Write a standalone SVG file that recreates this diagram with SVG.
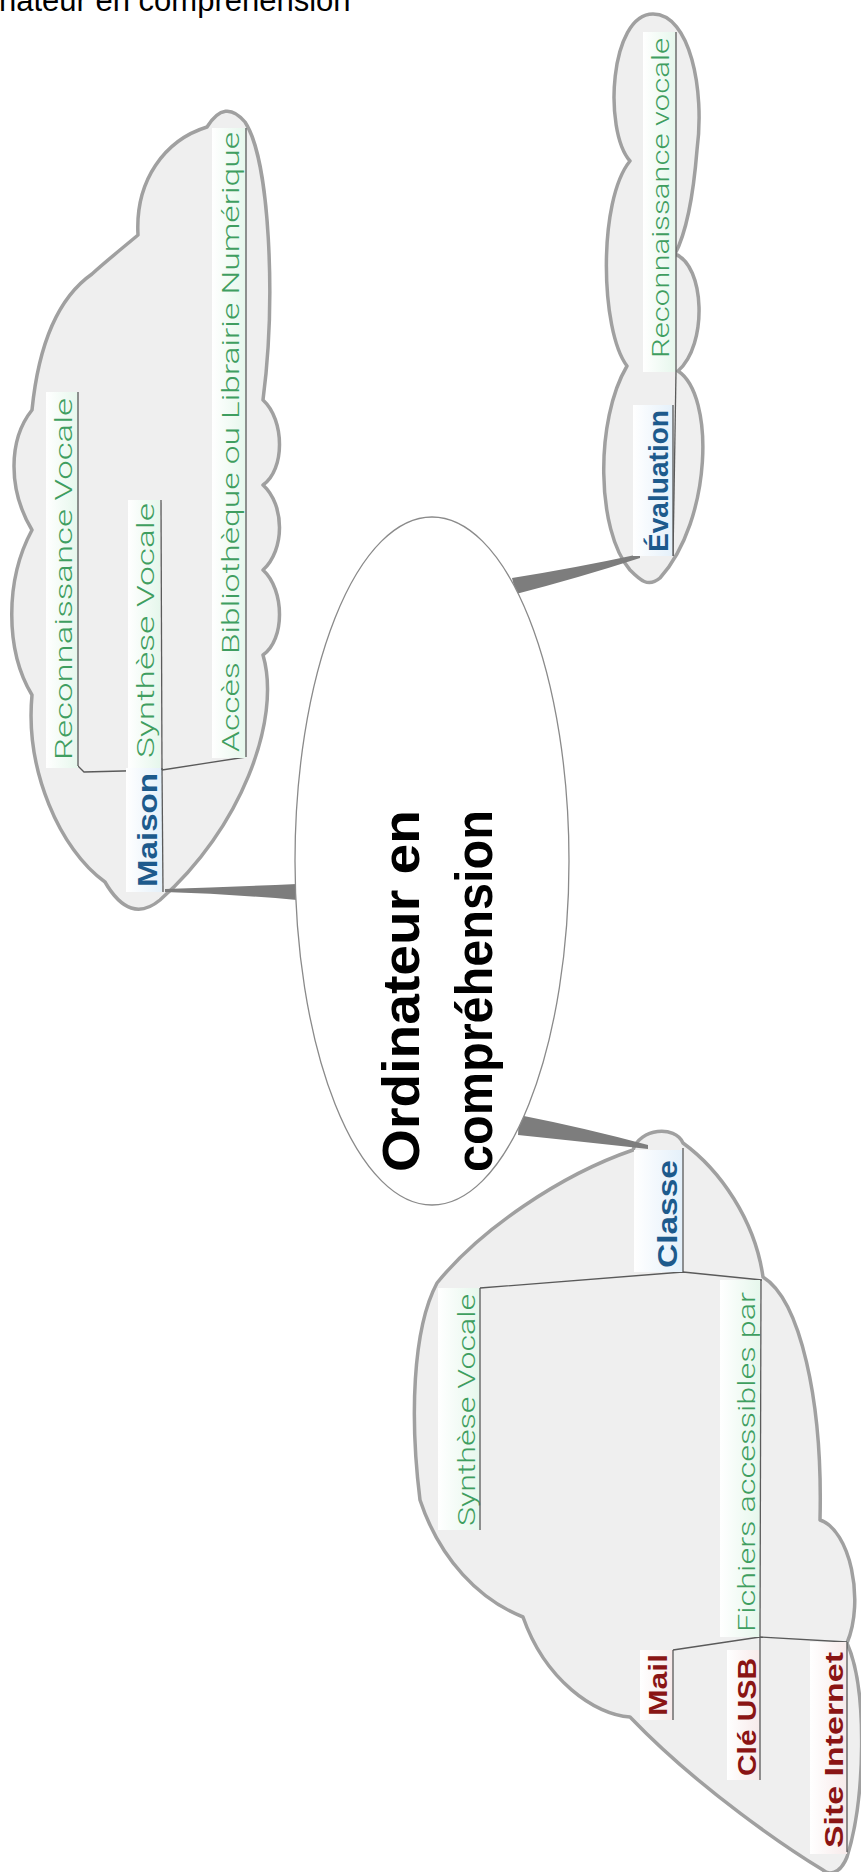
<svg xmlns="http://www.w3.org/2000/svg" width="861" height="1872" viewBox="0 0 861 1872">
<defs>
<linearGradient id="gGreen" x1="0" y1="0" x2="1" y2="0"><stop offset="0" stop-color="#ffffff"/><stop offset="1" stop-color="#e6f7ec"/></linearGradient>
<linearGradient id="gBlue" x1="0" y1="0" x2="1" y2="0"><stop offset="0" stop-color="#ffffff"/><stop offset="1" stop-color="#e4f0fa"/></linearGradient>
<linearGradient id="gRed" x1="0" y1="0" x2="1" y2="0"><stop offset="0" stop-color="#ffffff"/><stop offset="1" stop-color="#f7eaea"/></linearGradient>
</defs>
<style>
.cloud{fill:#efefef;stroke:#a0a0a0;stroke-width:3.5;stroke-linejoin:round}
.ul{fill:none;stroke:#5a5a5a;stroke-width:1.3}
.conn{fill:#7d7d7d;stroke:none}
.sub{font-family:Roboto,"Liberation Sans","DejaVu Sans",sans-serif;font-size:23px;font-weight:300;fill:#3f9e60}
.main{font-family:"Liberation Sans","DejaVu Sans",sans-serif;font-size:27px;font-weight:bold;fill:#1d5a8c}
.leaf{font-family:"Liberation Sans","DejaVu Sans",sans-serif;font-size:25px;font-weight:bold;fill:#8a1414}
.central{font-family:"Liberation Sans","DejaVu Sans",sans-serif;font-size:52px;font-weight:bold;fill:#000}
</style>
<rect width="861" height="1872" fill="#ffffff"/>
<text x="-1" y="11" font-family="Liberation Sans, Arial, sans-serif" font-size="31" fill="#000">nateur en compréhension</text>

<g id="cloud-maison">
<path class="cloud" d="M160,900 Q130,925 105,882 C60,850 25,770 32,695 C5,650 5,580 32,530 C8,490 8,440 32,410 C38,350 55,300 92,274 C105,262 125,246 138,235 C135,180 165,140 207,127 Q225,98 245,122 C270,160 276,300 263,400 C285,420 285,470 263,485 C285,505 285,550 263,570 C285,590 285,640 263,655 C282,720 240,830 160,900 Z"/>
</g>
<g id="cloud-evaluation">
<path class="cloud" d="M653,14 C690,14 705,90 697,150 C693,200 685,235 675,254 C705,265 708,345 678,371 C715,395 712,520 660,578 C648,588 640,580 630,570 C596,530 595,420 627,366 C600,330 598,200 630,161 C603,130 610,14 653,14 Z"/>
</g>
<g id="cloud-classe">
<path class="cloud" d="M633,1150 C640,1128 675,1125 683,1143 C720,1170 755,1220 763,1277 C800,1300 823,1400 820,1520 C850,1530 865,1600 847,1643 C868,1690 865,1800 847,1857 C840,1875 828,1875 823,1870 C790,1850 700,1790 630,1717 C595,1715 545,1680 523,1617 C480,1600 440,1560 420,1500 C410,1420 412,1330 437,1283 C480,1230 560,1175 633,1150 Z"/>
</g>

<g id="connectors">
<path class="conn" d="M165,889 Q230,887 297,884 L297,900 Q230,894 165,892 Z"/>
<path class="conn" d="M512,578 Q575,568 640,554 L640,558 Q578,578 516,594 Z"/>
<path class="conn" d="M519,1115 Q585,1128 648,1145 L648,1149 Q585,1142 518,1135 Z"/>
<polyline class="ul" points="78,766 84,772 162,770 246,757"/>
<polyline class="ul" points="480,1288 683,1272 762,1280"/>
<polyline class="ul" points="673,1650 760,1637 847,1642"/>
<line class="ul" x1="673" y1="556" x2="676" y2="372"/>
</g>

<g id="central">
<ellipse cx="432" cy="861" rx="137" ry="344" fill="#ffffff" stroke="#8a8a8a" stroke-width="1.3"/>
<text class="central" transform="translate(419,1172) rotate(-90)" textLength="362" lengthAdjust="spacingAndGlyphs">Ordinateur en</text>
<text class="central" transform="translate(492,1172) rotate(-90)" textLength="362" lengthAdjust="spacingAndGlyphs">compréhension</text>
</g>

<g id="node-maison">
<rect x="126" y="768" width="36" height="124" fill="url(#gBlue)"/>
<text class="main" transform="translate(157,887) rotate(-90)" textLength="114" lengthAdjust="spacingAndGlyphs">Maison</text>
<line class="ul" x1="162" y1="768" x2="163" y2="892"/>
</g>
<g id="node-reco-maison">
<rect x="46" y="392" width="32" height="376" fill="url(#gGreen)"/>
<text class="sub" transform="translate(72,760) rotate(-90)" textLength="362" lengthAdjust="spacingAndGlyphs">Reconnaissance Vocale</text>
<line class="ul" x1="78" y1="392" x2="78" y2="766"/>
</g>
<g id="node-synth-maison">
<rect x="128" y="500" width="32" height="268" fill="url(#gGreen)"/>
<text class="sub" transform="translate(154,758) rotate(-90)" textLength="255" lengthAdjust="spacingAndGlyphs">Synthèse Vocale</text>
<line class="ul" x1="161" y1="500" x2="162" y2="770"/>
</g>
<g id="node-acces">
<rect x="212" y="128" width="34" height="630" fill="url(#gGreen)"/>
<text class="sub" transform="translate(239,752) rotate(-90)" textLength="620" lengthAdjust="spacingAndGlyphs">Accès Bibliothèque ou Librairie Numérique</text>
<line class="ul" x1="246" y1="128" x2="246" y2="757"/>
</g>

<g id="node-evaluation">
<rect x="633" y="405" width="40" height="151" fill="url(#gBlue)"/>
<text class="main" transform="translate(668,552) rotate(-90)" textLength="142" lengthAdjust="spacingAndGlyphs">Évaluation</text>
<line class="ul" x1="673" y1="405" x2="673" y2="556"/>
</g>
<g id="node-reco-eval">
<rect x="643" y="32" width="33" height="340" fill="url(#gGreen)"/>
<text class="sub" transform="translate(669,358) rotate(-90)" textLength="320" lengthAdjust="spacingAndGlyphs">Reconnaissance vocale</text>
<line class="ul" x1="676" y1="32" x2="676" y2="372"/>
</g>

<g id="node-classe">
<rect x="634" y="1150" width="49" height="122" fill="url(#gBlue)"/>
<text class="main" transform="translate(677,1268) rotate(-90)" textLength="108" lengthAdjust="spacingAndGlyphs">Classe</text>
<line class="ul" x1="683" y1="1148" x2="683" y2="1272"/>
</g>
<g id="node-synth-classe">
<rect x="438" y="1288" width="42" height="242" fill="url(#gGreen)"/>
<text class="sub" transform="translate(475,1526) rotate(-90)" textLength="232" lengthAdjust="spacingAndGlyphs">Synthèse Vocale</text>
<line class="ul" x1="480" y1="1288" x2="480" y2="1530"/>
</g>
<g id="node-fichiers">
<rect x="720" y="1280" width="40" height="357" fill="url(#gGreen)"/>
<text class="sub" transform="translate(755,1632) rotate(-90)" textLength="340" lengthAdjust="spacingAndGlyphs">Fichiers accessibles par</text>
<line class="ul" x1="761" y1="1280" x2="760" y2="1637"/>
</g>
<g id="node-mail">
<rect x="640" y="1650" width="33" height="70" fill="url(#gRed)"/>
<text class="leaf" transform="translate(667,1716) rotate(-90)" textLength="62" lengthAdjust="spacingAndGlyphs">Mail</text>
<line class="ul" x1="673" y1="1650" x2="673" y2="1720"/>
</g>
<g id="node-cle">
<rect x="727" y="1650" width="33" height="130" fill="url(#gRed)"/>
<text class="leaf" transform="translate(756,1776) rotate(-90)" textLength="118" lengthAdjust="spacingAndGlyphs">Clé USB</text>
<line class="ul" x1="760" y1="1637" x2="760" y2="1780"/>
</g>
<g id="node-site">
<rect x="810" y="1642" width="37" height="212" fill="url(#gRed)"/>
<text class="leaf" transform="translate(843,1848) rotate(-90)" textLength="196" lengthAdjust="spacingAndGlyphs">Site Internet</text>
<line class="ul" x1="847" y1="1642" x2="847" y2="1852"/>
</g>
</svg>
